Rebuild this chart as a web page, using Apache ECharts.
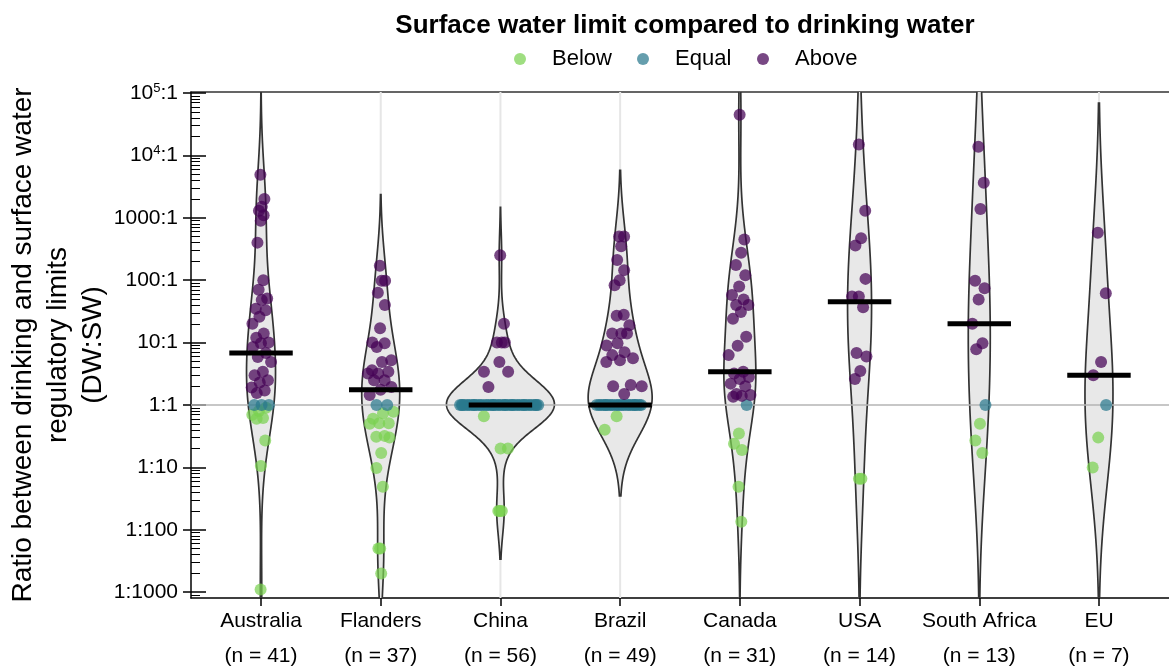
<!DOCTYPE html>
<html><head><meta charset="utf-8">
<script src="https://cdn.jsdelivr.net/npm/echarts@6/dist/echarts.min.js"></script>
<style>html,body{margin:0;padding:0;background:#fff}#chart{width:1169px;height:670px}</style>
</head><body><div id="chart"></div>
<script>
// ---------- data (DW:SW ratios) ----------
const countries = ['Australia','Flanders','China','Brazil','Canada','USA','South Africa','EU'];
const counts = [41,37,56,49,31,14,13,7];
const seriesNames = ['Below','Equal','Above'];
const yTickExponents = [-3,-2,-1,0,1,2,3,4,5];
const yTickLabels = ['1:1000','1:100','1:10','1:1','10:1','100:1','1000:1','10{s|4}:1','10{s|5}:1'];

const australiaAbove = [4900,2000,1500,1300,1100,900,400,100,70,51,48,35,33,26,20,14,12,10,9.8,8.5,6.8,5.9,4.9,3.4,3,2.5,2.3,1.9,1.7,1.55];
const australiaBelow = [0.9,0.8,0.7,0.62,0.6,0.27,0.105,0.0011];
const flandersAbove = [170,98,98,63,40,17,10,9.8,8.5,5.2,4.9,3.6,3.4,3.2,3.2,2.5,2.5,1.95,1.75,1.45];
const flandersBelow = [0.78,0.74,0.6,0.51,0.51,0.5,0.32,0.31,0.3,0.17,0.098,0.049,0.005,0.005,0.002];
const chinaAbove = [250,20,10,10,10,4.9,3.4,3.4,1.95];
const chinaBelow = [0.66,0.2,0.2,0.02,0.02,0.02];
const brazilAbove = [500,500,350,210,145,100,83,28,27,19,14,14,14,9.8,9,7,6.3,5.6,5.2,4.9,2.1,2,2,1.5];
const brazilBelow = [0.66,0.4];
const canadaAbove = [45000,450,275,175,120,79,58,49,40,40,31,24,12.4,8.9,6.3,3.4,3.2,2.8,2.6,2.2,2.0,1.5,1.45,1.4,1.35];
const canadaBelow = [0.35,0.24,0.19,0.049,0.0135];
const usaAbove = [15000,1300,470,360,105,55,55,37,6.8,6.0,3.5,2.6];
const usaBelow = [0.066,0.066];
const saAbove = [13800,3650,1380,98,74,49,20,9.8,7.8];
const saBelow = [0.5,0.27,0.17];
const euAbove = [575,62,4.9,3.0];
const euBelow = [0.3,0.1];
// number of limits that are equal (ratio exactly 1:1) per country
const equalCounts = [3,2,41,23,1,0,1,1];

const aboveLists = [australiaAbove,flandersAbove,chinaAbove,brazilAbove,canadaAbove,usaAbove,saAbove,euAbove];
const belowLists = [australiaBelow,flandersBelow,chinaBelow,brazilBelow,canadaBelow,usaBelow,saBelow,euBelow];

// ---------- style ----------
const FONT = "'Liberation Sans', Arial, Helvetica, sans-serif";
const colors = {Below:'#7ad151', Equal:'#2a788e', Above:'#440154'};
const yMin = -3.093, yMax = 5.016;
const xMin = -0.585, xMax = 7.585;
const BAND_PX = 119.7;
// KDE bandwidth (decades) and max half-width (px) of each violin
const violinBandwidth = [0.66, 0.57, 0.385, 0.53, 0.65, 1.0, 1.2, 1.04];
const violinHalfPx = [14.5, 19, 54, 32, 16, 12, 11, 14];
const MEDIAN_HALF = 0.265, JITTER = 0.75;

const groups = countries.map((c,i)=>{
  const eq = []; for (let k=0;k<equalCounts[i];k++) eq.push(1);
  return {Below: belowLists[i], Equal: eq, Above: aboveLists[i]};
});

function kde(vals, h){
  const n = vals.length;
  const f = y=>{let s=0; for(const v of vals){const z=(y-v)/h; s+=Math.exp(-0.5*z*z);} return s/(n*h*Math.sqrt(2*Math.PI));};
  const lo = Math.min(...vals)-2*h, hi = Math.max(...vals)+2*h;
  const ys=[], ds=[];
  const N=300;
  for(let k=0;k<=N;k++){const y=lo+(hi-lo)*k/N; ys.push(y); ds.push(f(y));}
  const mx = Math.max(...ds);
  return {ys,ds,f,mx};
}
const logs = groups.map(g=>[...g.Below,...g.Equal,...g.Above].map(Math.log10));
const kdes = logs.map((l,i)=>kde(l, violinBandwidth[i]));
const halfW = (i,d)=> d/kdes[i].mx*violinHalfPx[i]/BAND_PX;
const median = arr=>{const s=[...arr].sort((a,b)=>a-b); const m=s.length>>1; return s.length%2?s[m]:(s[m-1]+s[m])/2;};
const medians = logs.map(median);

// sina-style jitter: spread proportional to violin width at the value
const scatterData = {Below:[],Equal:[],Above:[]};
countries.forEach((c,i)=>{
  let k=0;
  ['Above','Equal','Below'].forEach(cat=>{
    groups[i][cat].forEach(v=>{
      const ly = Math.log10(v);
      const hw = halfW(i, kdes[i].f(ly));
      const u = (((k*0.6180339887+0.37)%1)*2-1);
      k++;
      scatterData[cat].push([i + u*JITTER*hw, ly]);
    });
  });
});

const minorTicks = [];
for(let d=-4; d<=5; d++) for(let m=2;m<=9;m++){const t=d+Math.log10(m); if(t>yMin && t<yMax) minorTicks.push(t);}

const axisCommon = {min:yMin,max:yMax,type:'value',position:'left',splitLine:{show:false}};
const option = {
  backgroundColor:'#fff',
  animation:false,
  textStyle:{fontFamily:FONT},
  title:{text:'Surface water limit compared to drinking water', left:680, textAlign:'center', top:8,
    textStyle:{fontFamily:FONT, fontSize:26, fontWeight:'bold', color:'#000'}},
  legend: seriesNames.map((nm,idx)=>({
    data:[nm], left:[509,632,752][idx], top:43, icon:'circle', itemWidth:54, itemHeight:12,
    textStyle:{fontFamily:FONT, fontSize:22, color:'#000'}, selectedMode:false
  })),
  grid:{left:191,right:0,top:92,bottom:72, containLabel:false, outerBoundsMode:'none'},
  xAxis:[
    {type:'value', min:xMin, max:xMax, position:'bottom',
     axisLine:{onZero:false, lineStyle:{color:'#000', width:1.5}},
     axisTick:{show:true, customValues:countries.map((c,i)=>i), length:8, lineStyle:{color:'#000',width:1.5}},
     axisLabel:{customValues:countries.map((c,i)=>i), margin:6, fontFamily:FONT, fontSize:21, color:'#000', lineHeight:35,
       formatter:v=>countries[v]+'\n(n = '+counts[v]+')'},
     splitLine:{show:false}},
    {type:'value', min:xMin, max:xMax, position:'top',
     axisLine:{onZero:false, lineStyle:{color:'#333', width:1.5}}, axisTick:{show:false}, axisLabel:{show:false}, splitLine:{show:false}}
  ],
  yAxis:[
    Object.assign({}, axisCommon, {
      axisLine:{show:true,onZero:false,lineStyle:{color:'#000',width:1.5}},
      axisTick:{show:true,customValues:yTickExponents,length:8,lineStyle:{color:'#000',width:1.5}},
      axisLabel:{customValues:yTickExponents, margin:13, fontFamily:FONT, fontSize:21, color:'#000',
        formatter:v=>yTickLabels[yTickExponents.indexOf(Math.round(v))],
        rich:{s:{fontSize:13, verticalAlign:'top', lineHeight:22, fontFamily:FONT, color:'#000'}}},
      name:'Ratio between drinking and surface water\nregulatory limits\n(DW:SW)',
      nameLocation:'middle', nameGap:80, nameMoveOverlap:false,
      nameTextStyle:{fontFamily:FONT, fontSize:28, lineHeight:35, color:'#000'}
    }),
    Object.assign({}, axisCommon, {
      axisLine:{show:false,onZero:false},
      axisTick:{show:true,inside:true,customValues:yTickExponents,length:15,lineStyle:{color:'#000',width:1.5}},
      axisLabel:{show:false}
    }),
    Object.assign({}, axisCommon, {
      axisLine:{show:false,onZero:false},
      axisTick:{show:true,inside:true,customValues:minorTicks,length:9,lineStyle:{color:'#000',width:1}},
      axisLabel:{show:false}
    })
  ],
  series:[
    {type:'custom', name:'_grid', z:1, silent:true, clip:true,
     data:countries.map((c,i)=>[i,0]), encode:{x:0,y:1},
     renderItem:(params,api)=>{
       const i = params.dataIndex;
       const a = api.coord([i, yMax]), b = api.coord([i, yMin]);
       return {type:'line', shape:{x1:a[0],y1:a[1],x2:b[0],y2:b[1]}, style:{stroke:'#e6e6e6', lineWidth:2}};
     }},
    {type:'custom', name:'_violin', z:2, clip:true, silent:true,
     data:countries.map((c,i)=>[i,0]), encode:{x:0,y:1},
     renderItem:(params,api)=>{
       const i = params.dataIndex, kd = kdes[i];
       const L=[], R=[];
       for(let k=0;k<kd.ys.length;k++){
         const w = halfW(i, kd.ds[k]);
         L.push(api.coord([i-w, kd.ys[k]])); R.push(api.coord([i+w, kd.ys[k]]));
       }
       return {type:'polygon', shape:{points:L.concat(R.reverse())},
         style:{fill:'#e8e8e8', stroke:'#333', lineWidth:1.7}};
     }},
    {type:'custom', name:'_hline', z:3, silent:true, clip:true,
     data:[[0,0]], encode:{x:0,y:1},
     renderItem:(params,api)=>{
       const a = api.coord([xMin, 0]), b = api.coord([xMax, 0]);
       return {type:'line', shape:{x1:a[0],y1:a[1],x2:b[0],y2:b[1]}, style:{stroke:'#b4b4b4', lineWidth:1.6}};
     }},
    ...seriesNames.map(nm=>({
      type:'scatter', name:nm, z:4, data:scatterData[nm], symbolSize:12,
      itemStyle:{color:colors[nm], opacity:0.72}
    })),
    {type:'custom', name:'_median', z:5, silent:true,
     data:countries.map((c,i)=>[i,medians[i]]), encode:{x:0,y:1},
     renderItem:(params,api)=>{
       const i = api.value(0), m = api.value(1);
       const a = api.coord([i-MEDIAN_HALF, m]), b = api.coord([i+MEDIAN_HALF, m]);
       return {type:'line', shape:{x1:a[0],y1:a[1],x2:b[0],y2:b[1]}, style:{stroke:'#000', lineWidth:5}};
     }}
  ]
};
const chart = echarts.init(document.getElementById('chart'), null, {renderer:'canvas'});
chart.setOption(option);
</script></body></html>
